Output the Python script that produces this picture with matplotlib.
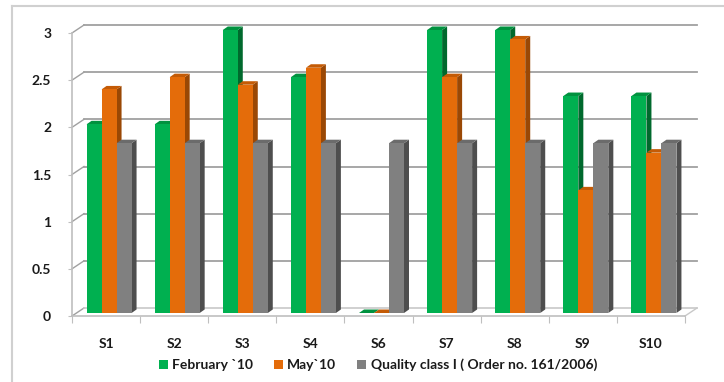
import numpy as np
import matplotlib.pyplot as plt
from matplotlib.patches import Polygon, Patch
from matplotlib.lines import Line2D

# sampling sites and measured values
sites = ['S1', 'S2', 'S3', 'S4', 'S6', 'S7', 'S8', 'S9', 'S10']
feb_10 = [2, 2, 3, 2.5, 0, 3, 3, 2.3, 2.3]
may_10 = [2.37, 2.5, 2.42, 2.6, 0, 2.5, 2.9, 1.3, 1.7]
quality_class = [1.8, 1.8, 1.8, 1.8, 1.8, 1.8, 1.8, 1.8, 1.8]
series_labels = ['February `10', 'May`10', 'Quality class I ( Order no. 161/2006)']
y_ticks = [0, 0.5, 1, 1.5, 2, 2.5, 3]

# front, top, side shades for the fake 3d columns
shades = [
    ('#00b050', '#00923f', '#00692d'),
    ('#e46c0a', '#c45b06', '#9a4805'),
    ('#808080', '#6b6b6b', '#4e4e4e'),
]

plt.rcParams['font.family'] = ['Lato', 'DejaVu Sans']
plt.rcParams['font.weight'] = 'bold'

fig = plt.figure(figsize=(7.24, 3.82), dpi=100)
W, H = 724, 382
ax = fig.add_axes([72 / W, 66 / H, 613 / W, 283 / H])
n = len(sites)
ax.set_xlim(0, n)
ax.set_ylim(0, 3)

# pixel -> data scale
sx = n / 613
sy = 3 / 283

grid_c = '#a0a0a0'
back_dx, back_dy = 12 * sx, 8 * sy

# back wall gridlines + side wall diagonals
for t in y_ticks:
    if t > 0:
        ax.plot([back_dx, n + back_dx], [t + back_dy, t + back_dy], color=grid_c, lw=1.3, clip_on=False, zorder=1)
    ax.plot([0, back_dx], [t, t + back_dy], color=grid_c, lw=1.0, clip_on=False, zorder=1)

# floor
ax.plot([back_dx, n + back_dx], [back_dy, back_dy], color='#c8c8c8', lw=1.2, clip_on=False, zorder=1)
ax.plot([n, n + back_dx], [0, back_dy], color='#c8c8c8', lw=1.0, clip_on=False, zorder=1)

# columns
w = 15 * sx
off_x, off_y = 3 * sx, 3 * sy
dep_x, dep_y = 5 * sx, 3.5 * sy
z = 3
for i in range(n):
    center = i + 0.5 + off_x
    for k, vals in enumerate([feb_10, may_10, quality_class]):
        h = vals[i]
        x0 = center - 1.5 * w + k * w
        x1 = x0 + w
        y0 = off_y
        y1 = off_y + h
        front_c, top_c, side_c = shades[k]
        side = Polygon([(x1, y0), (x1 + dep_x, y0 + dep_y), (x1 + dep_x, y1 + dep_y), (x1, y1)],
                       closed=True, facecolor=side_c, edgecolor='none', clip_on=False, zorder=z)
        top = Polygon([(x0, y1), (x1, y1), (x1 + dep_x, y1 + dep_y), (x0 + dep_x, y1 + dep_y)],
                      closed=True, facecolor=top_c, edgecolor='none', clip_on=False, zorder=z)
        ax.add_patch(side)
        ax.add_patch(top)
        ax.bar(x0, h, width=w, bottom=y0, align='edge', color=front_c, zorder=z + 0.5, clip_on=False)
        z += 1

# axes styling
for s in ['top', 'right']:
    ax.spines[s].set_visible(False)
ax.spines['left'].set_color('#bfbfbf')
ax.spines['bottom'].set_color('#bfbfbf')
ax.spines['left'].set_linewidth(1.2)
ax.spines['bottom'].set_linewidth(1.2)
ax.set_yticks(y_ticks)
ax.set_yticklabels([('%g' % t) for t in y_ticks])
ax.tick_params(axis='y', length=3, color='#bfbfbf', pad=12, labelsize=10, labelcolor='#1a1a1a')
ax.set_xticks(np.arange(n + 1))
ax.set_xticklabels([])
ax.set_xticks(np.arange(n) + 0.5, minor=True)
ax.set_xticklabels(sites, minor=True)
ax.tick_params(axis='x', which='major', length=5, color='#bfbfbf')
ax.tick_params(axis='x', which='minor', length=0, pad=16, labelsize=10, labelcolor='#1a1a1a')
ax.patch.set_alpha(0)

# legend
handles = [Patch(facecolor=c[0], edgecolor='none') for c in shades]
fig.legend(handles, series_labels, loc='center', bbox_to_anchor=(378 / W, 1 - 365 / H), ncol=3,
           frameon=False, fontsize=10, handlelength=0.65, handleheight=0.65, handletextpad=0.3,
           columnspacing=1.5, labelcolor='#1a1a1a')

# outer chart border
fig.add_artist(Line2D([12 / W, 12 / W], [0, 1 - 6 / H], color='#d0d0d0', lw=1.5))
fig.add_artist(Line2D([12 / W, 1], [1 - 6 / H, 1 - 6 / H], color='#d0d0d0', lw=1.5))

fig.savefig('out.png', dpi=100)
